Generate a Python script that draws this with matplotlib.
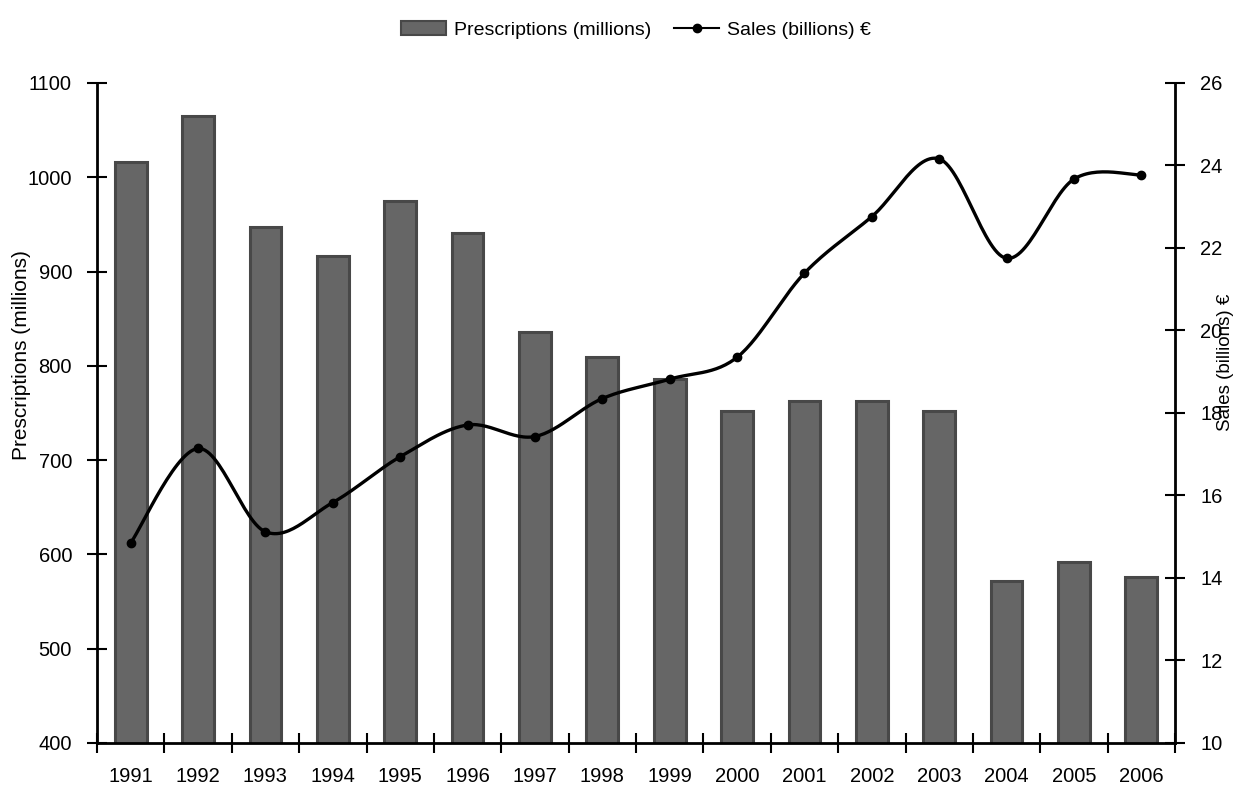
import numpy as np
import matplotlib.pyplot as plt
from matplotlib.lines import Line2D
from matplotlib.patches import Patch

plt.rcParams['font.family'] = ['Liberation Sans', 'DejaVu Sans']

years = ["1991", "1992", "1993", "1994", "1995", "1996", "1997", "1998",
         "1999", "2000", "2001", "2002", "2003", "2004", "2005", "2006"]
prescriptions = [1016, 1065, 947, 917, 975, 941, 836, 809,
                 786, 752, 763, 763, 752, 572, 592, 576]
sales = [14.85, 17.14, 15.12, 15.83, 16.94, 17.71, 17.43, 18.35,
         18.82, 19.35, 21.39, 22.76, 24.16, 21.75, 23.67, 23.77]


def smooth_curve(x, y, steps=30):
    # Excel-style smoothed line (Catmull-Rom through the points)
    x = np.asarray(x, float)
    y = np.asarray(y, float)
    px = np.concatenate([[x[0]], x, [x[-1]]])
    py = np.concatenate([[y[0]], y, [y[-1]]])
    xs, ys = [], []
    t = np.linspace(0, 1, steps)
    for i in range(1, len(px) - 2):
        p0x, p1x, p2x, p3x = px[i], px[i] + (px[i + 1] - px[i - 1]) / 6, px[i + 1] - (px[i + 2] - px[i]) / 6, px[i + 1]
        p0y, p1y, p2y, p3y = py[i], py[i] + (py[i + 1] - py[i - 1]) / 6, py[i + 1] - (py[i + 2] - py[i]) / 6, py[i + 1]
        b = [(1 - t) ** 3, 3 * (1 - t) ** 2 * t, 3 * (1 - t) * t ** 2, t ** 3]
        xs.append(b[0] * p0x + b[1] * p1x + b[2] * p2x + b[3] * p3x)
        ys.append(b[0] * p0y + b[1] * p1y + b[2] * p2y + b[3] * p3y)
    return np.concatenate(xs), np.concatenate(ys)


fig = plt.figure(figsize=(12.37, 7.87), dpi=100)
ax = fig.add_axes([97 / 1237, 1 - 743 / 787, (1175 - 97) / 1237, (743 - 83) / 787])
x = np.arange(len(years))

ax.bar(x, prescriptions, width=0.47, color="#666666", edgecolor="#484848", linewidth=2.2, zorder=2)
ax.set_xlim(-0.5, len(years) - 0.5)
ax.set_ylim(400, 1100)
ax.set_yticks(range(400, 1101, 100))
ax.set_xticks(x)
ax.set_xticklabels(years, fontsize=14.5)
ax.set_xticks(np.arange(-0.5, len(years) - 0.4, 1), minor=True)
ax.tick_params(axis="x", which="major", length=0, pad=17)
ax.tick_params(axis="x", which="minor", direction="inout", length=14, width=1.5)
ax.tick_params(axis="y", direction="inout", length=14, width=1.5, labelsize=14.5, pad=11)
ax.spines["top"].set_visible(False)
for s in ["left", "bottom"]:
    ax.spines[s].set_linewidth(2)

ax2 = ax.twinx()
ax2.set_ylim(10, 26)
ax2.set_yticks(range(10, 27, 2))
sx, sy = smooth_curve(x, sales)
ax2.plot(sx, sy, color="black", linewidth=2.4, zorder=3)
ax2.plot(x, sales, "o", color="black", markersize=6, zorder=4)
ax2.tick_params(axis="y", direction="inout", length=14, width=1.5, labelsize=14.5, pad=11)
ax2.spines["top"].set_visible(False)
ax2.spines["right"].set_linewidth(2)
ax2.spines["left"].set_visible(False)
ax2.spines["bottom"].set_visible(False)

fig.text(22 / 1237, 1 - 355 / 787, "Prescriptions (millions)", rotation=90,
         ha="center", va="center", fontsize=15)
fig.text(1226 / 1237, 1 - 362 / 787, "Sales (billions) €", rotation=90,
         ha="center", va="center", fontsize=13.5)

handles = [Patch(facecolor="#666666", edgecolor="#484848", linewidth=1.5),
           Line2D([0], [0], color="black", linewidth=1.5, marker="o", markersize=6)]
fig.legend(handles, ["Prescriptions (millions)", "Sales (billions) €"],
           loc="upper center", bbox_to_anchor=(0.514, 0.995), ncol=2, frameon=False,
           fontsize=14, handlelength=2.3, handletextpad=0.4, columnspacing=1.2)

fig.savefig("out.png", dpi=100)
